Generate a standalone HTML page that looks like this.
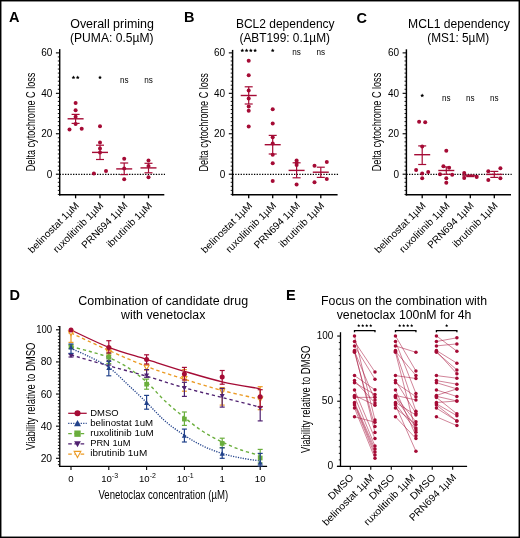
<!DOCTYPE html>
<html><head><meta charset="utf-8"><style>
html,body{margin:0;padding:0;background:#fff;}
body{width:520px;height:538px;overflow:hidden;}
svg{display:block;font-family:"Liberation Sans", sans-serif;will-change:transform;}
</style></head><body>
<svg width="520" height="538" viewBox="0 0 520 538">
<rect width="520" height="538" fill="#fff"/>
<rect x="0.7" y="0.7" width="518.6" height="536.6" fill="none" stroke="#000" stroke-width="1.5"/>
<text x="9.00" y="22.40" font-size="14.5" font-weight="bold" fill="#000" >A</text>
<text x="184.00" y="22.30" font-size="14.5" font-weight="bold" fill="#000" >B</text>
<text x="356.40" y="22.80" font-size="14.5" font-weight="bold" fill="#000" >C</text>
<text x="9.60" y="299.60" font-size="14.5" font-weight="bold" fill="#000" >D</text>
<text x="285.90" y="299.60" font-size="14.5" font-weight="bold" fill="#000" >E</text>
<text x="70.20" y="28.20" font-size="12" textLength="83.80" lengthAdjust="spacingAndGlyphs" >Overall priming</text>
<text x="70.00" y="41.80" font-size="12" textLength="83.60" lengthAdjust="spacingAndGlyphs" >(PUMA: 0.5µM)</text>
<line x1="59.70" y1="49.10" x2="59.70" y2="195.50" stroke="#000" stroke-width="1.45" />
<line x1="59.00" y1="194.80" x2="164.30" y2="194.80" stroke="#000" stroke-width="1.4" />
<line x1="57.80" y1="194.42" x2="59.70" y2="194.42" stroke="#000" stroke-width="0.9" />
<line x1="57.80" y1="190.38" x2="59.70" y2="190.38" stroke="#000" stroke-width="0.9" />
<line x1="57.80" y1="186.33" x2="59.70" y2="186.33" stroke="#000" stroke-width="0.9" />
<line x1="57.80" y1="182.29" x2="59.70" y2="182.29" stroke="#000" stroke-width="0.9" />
<line x1="57.80" y1="178.24" x2="59.70" y2="178.24" stroke="#000" stroke-width="0.9" />
<line x1="55.90" y1="174.20" x2="59.70" y2="174.20" stroke="#000" stroke-width="1.1" />
<line x1="57.80" y1="170.16" x2="59.70" y2="170.16" stroke="#000" stroke-width="0.9" />
<line x1="57.80" y1="166.11" x2="59.70" y2="166.11" stroke="#000" stroke-width="0.9" />
<line x1="57.80" y1="162.07" x2="59.70" y2="162.07" stroke="#000" stroke-width="0.9" />
<line x1="57.80" y1="158.02" x2="59.70" y2="158.02" stroke="#000" stroke-width="0.9" />
<line x1="57.80" y1="153.98" x2="59.70" y2="153.98" stroke="#000" stroke-width="0.9" />
<line x1="57.80" y1="149.94" x2="59.70" y2="149.94" stroke="#000" stroke-width="0.9" />
<line x1="57.80" y1="145.89" x2="59.70" y2="145.89" stroke="#000" stroke-width="0.9" />
<line x1="57.80" y1="141.85" x2="59.70" y2="141.85" stroke="#000" stroke-width="0.9" />
<line x1="57.80" y1="137.80" x2="59.70" y2="137.80" stroke="#000" stroke-width="0.9" />
<line x1="55.90" y1="133.76" x2="59.70" y2="133.76" stroke="#000" stroke-width="1.1" />
<line x1="57.80" y1="129.72" x2="59.70" y2="129.72" stroke="#000" stroke-width="0.9" />
<line x1="57.80" y1="125.67" x2="59.70" y2="125.67" stroke="#000" stroke-width="0.9" />
<line x1="57.80" y1="121.63" x2="59.70" y2="121.63" stroke="#000" stroke-width="0.9" />
<line x1="57.80" y1="117.58" x2="59.70" y2="117.58" stroke="#000" stroke-width="0.9" />
<line x1="57.80" y1="113.54" x2="59.70" y2="113.54" stroke="#000" stroke-width="0.9" />
<line x1="57.80" y1="109.50" x2="59.70" y2="109.50" stroke="#000" stroke-width="0.9" />
<line x1="57.80" y1="105.45" x2="59.70" y2="105.45" stroke="#000" stroke-width="0.9" />
<line x1="57.80" y1="101.41" x2="59.70" y2="101.41" stroke="#000" stroke-width="0.9" />
<line x1="57.80" y1="97.36" x2="59.70" y2="97.36" stroke="#000" stroke-width="0.9" />
<line x1="55.90" y1="93.32" x2="59.70" y2="93.32" stroke="#000" stroke-width="1.1" />
<line x1="57.80" y1="89.28" x2="59.70" y2="89.28" stroke="#000" stroke-width="0.9" />
<line x1="57.80" y1="85.23" x2="59.70" y2="85.23" stroke="#000" stroke-width="0.9" />
<line x1="57.80" y1="81.19" x2="59.70" y2="81.19" stroke="#000" stroke-width="0.9" />
<line x1="57.80" y1="77.14" x2="59.70" y2="77.14" stroke="#000" stroke-width="0.9" />
<line x1="57.80" y1="73.10" x2="59.70" y2="73.10" stroke="#000" stroke-width="0.9" />
<line x1="57.80" y1="69.06" x2="59.70" y2="69.06" stroke="#000" stroke-width="0.9" />
<line x1="57.80" y1="65.01" x2="59.70" y2="65.01" stroke="#000" stroke-width="0.9" />
<line x1="57.80" y1="60.97" x2="59.70" y2="60.97" stroke="#000" stroke-width="0.9" />
<line x1="57.80" y1="56.92" x2="59.70" y2="56.92" stroke="#000" stroke-width="0.9" />
<line x1="55.90" y1="52.88" x2="59.70" y2="52.88" stroke="#000" stroke-width="1.1" />
<text x="52.30" y="177.80" font-size="10" text-anchor="end" >0</text>
<text x="52.30" y="137.36" font-size="10" text-anchor="end" >20</text>
<text x="52.30" y="96.92" font-size="10" text-anchor="end" >40</text>
<text x="52.30" y="56.48" font-size="10" text-anchor="end" >60</text>
<text x="34.80" y="121.95" font-size="12" text-anchor="middle" textLength="98.50" lengthAdjust="spacingAndGlyphs" transform="rotate(-90 34.80 121.95)" >Delta cytochrome C loss</text>
<line x1="59.70" y1="174.30" x2="165.00" y2="174.30" stroke="#000" stroke-width="1.3" stroke-dasharray="1.3 1.37"/>
<line x1="75.60" y1="194.80" x2="75.60" y2="198.30" stroke="#000" stroke-width="1.3" />
<text x="79.70" y="206.20" font-size="10" text-anchor="end" textLength="67.25" lengthAdjust="spacingAndGlyphs" transform="rotate(-45 79.70 206.20)" >belinostat 1µM</text>
<line x1="100.00" y1="194.80" x2="100.00" y2="198.30" stroke="#000" stroke-width="1.3" />
<text x="104.10" y="206.20" font-size="10" text-anchor="end" textLength="66.66" lengthAdjust="spacingAndGlyphs" transform="rotate(-45 104.10 206.20)" >ruxolitinib 1µM</text>
<line x1="124.20" y1="194.80" x2="124.20" y2="198.30" stroke="#000" stroke-width="1.3" />
<text x="128.30" y="206.20" font-size="10" text-anchor="end" textLength="60.48" lengthAdjust="spacingAndGlyphs" transform="rotate(-45 128.30 206.20)" >PRN694 1µM</text>
<line x1="148.50" y1="194.80" x2="148.50" y2="198.30" stroke="#000" stroke-width="1.3" />
<text x="152.60" y="206.20" font-size="10" text-anchor="end" textLength="59.22" lengthAdjust="spacingAndGlyphs" transform="rotate(-45 152.60 206.20)" >ibrutinib 1µM</text>
<polygon points="73.46,75.50 74.05,76.69 75.37,76.88 74.42,77.81 74.64,79.12 73.46,78.50 72.29,79.12 72.51,77.81 71.56,76.88 72.88,76.69" fill="#000"/>
<polygon points="77.73,75.50 78.32,76.69 79.64,76.88 78.69,77.81 78.91,79.12 77.73,78.50 76.56,79.12 76.78,77.81 75.83,76.88 77.15,76.69" fill="#000"/>
<polygon points="100.00,75.50 100.59,76.69 101.90,76.88 100.95,77.81 101.18,79.12 100.00,78.50 98.82,79.12 99.05,77.81 98.10,76.88 99.41,76.69" fill="#000"/>
<text x="124.20" y="82.70" font-size="9.4" text-anchor="middle" textLength="8.60" lengthAdjust="spacingAndGlyphs" >ns</text>
<text x="148.50" y="82.70" font-size="9.4" text-anchor="middle" textLength="8.60" lengthAdjust="spacingAndGlyphs" >ns</text>
<circle cx="75.60" cy="103.10" r="2.0" fill="#a50b35"/>
<circle cx="75.60" cy="110.30" r="2.0" fill="#a50b35"/>
<circle cx="75.60" cy="116.70" r="2.0" fill="#a50b35"/>
<circle cx="75.60" cy="124.10" r="2.0" fill="#a50b35"/>
<circle cx="69.50" cy="129.40" r="2.0" fill="#a50b35"/>
<circle cx="81.70" cy="128.70" r="2.0" fill="#a50b35"/>
<line x1="67.60" y1="118.80" x2="83.60" y2="118.80" stroke="#a50b35" stroke-width="1.4" />
<line x1="75.60" y1="114.40" x2="75.60" y2="123.40" stroke="#a50b35" stroke-width="1.2" />
<line x1="71.60" y1="114.40" x2="79.60" y2="114.40" stroke="#a50b35" stroke-width="1.2" />
<line x1="71.60" y1="123.40" x2="79.60" y2="123.40" stroke="#a50b35" stroke-width="1.2" />
<circle cx="100.00" cy="126.20" r="2.0" fill="#a50b35"/>
<circle cx="100.00" cy="142.60" r="2.0" fill="#a50b35"/>
<circle cx="100.00" cy="148.40" r="2.0" fill="#a50b35"/>
<circle cx="100.00" cy="152.60" r="2.0" fill="#a50b35"/>
<circle cx="93.90" cy="173.40" r="2.0" fill="#a50b35"/>
<circle cx="106.00" cy="171.10" r="2.0" fill="#a50b35"/>
<line x1="92.00" y1="152.40" x2="108.00" y2="152.40" stroke="#a50b35" stroke-width="1.4" />
<line x1="100.00" y1="145.20" x2="100.00" y2="159.50" stroke="#a50b35" stroke-width="1.2" />
<line x1="96.00" y1="145.20" x2="104.00" y2="145.20" stroke="#a50b35" stroke-width="1.2" />
<line x1="96.00" y1="159.50" x2="104.00" y2="159.50" stroke="#a50b35" stroke-width="1.2" />
<circle cx="124.20" cy="158.80" r="2.0" fill="#a50b35"/>
<circle cx="124.20" cy="168.50" r="2.0" fill="#a50b35"/>
<circle cx="124.20" cy="179.30" r="2.0" fill="#a50b35"/>
<line x1="116.20" y1="168.90" x2="132.20" y2="168.90" stroke="#a50b35" stroke-width="1.4" />
<line x1="124.20" y1="163.00" x2="124.20" y2="174.60" stroke="#a50b35" stroke-width="1.2" />
<line x1="120.20" y1="163.00" x2="128.20" y2="163.00" stroke="#a50b35" stroke-width="1.2" />
<line x1="120.20" y1="174.60" x2="128.20" y2="174.60" stroke="#a50b35" stroke-width="1.2" />
<circle cx="148.50" cy="160.60" r="2.0" fill="#a50b35"/>
<circle cx="148.50" cy="166.00" r="2.0" fill="#a50b35"/>
<circle cx="148.50" cy="177.30" r="2.0" fill="#a50b35"/>
<line x1="140.50" y1="167.90" x2="156.50" y2="167.90" stroke="#a50b35" stroke-width="1.4" />
<line x1="148.50" y1="163.30" x2="148.50" y2="172.80" stroke="#a50b35" stroke-width="1.2" />
<line x1="144.50" y1="163.30" x2="152.50" y2="163.30" stroke="#a50b35" stroke-width="1.2" />
<line x1="144.50" y1="172.80" x2="152.50" y2="172.80" stroke="#a50b35" stroke-width="1.2" />
<text x="235.90" y="28.20" font-size="12" textLength="98.70" lengthAdjust="spacingAndGlyphs" >BCL2 dependency</text>
<text x="239.50" y="41.80" font-size="12" textLength="90.50" lengthAdjust="spacingAndGlyphs" >(ABT199: 0.1µM)</text>
<line x1="232.60" y1="49.90" x2="232.60" y2="195.50" stroke="#000" stroke-width="1.45" />
<line x1="231.90" y1="194.80" x2="337.60" y2="194.80" stroke="#000" stroke-width="1.4" />
<line x1="230.70" y1="194.42" x2="232.60" y2="194.42" stroke="#000" stroke-width="0.9" />
<line x1="230.70" y1="190.38" x2="232.60" y2="190.38" stroke="#000" stroke-width="0.9" />
<line x1="230.70" y1="186.33" x2="232.60" y2="186.33" stroke="#000" stroke-width="0.9" />
<line x1="230.70" y1="182.29" x2="232.60" y2="182.29" stroke="#000" stroke-width="0.9" />
<line x1="230.70" y1="178.24" x2="232.60" y2="178.24" stroke="#000" stroke-width="0.9" />
<line x1="228.80" y1="174.20" x2="232.60" y2="174.20" stroke="#000" stroke-width="1.1" />
<line x1="230.70" y1="170.16" x2="232.60" y2="170.16" stroke="#000" stroke-width="0.9" />
<line x1="230.70" y1="166.11" x2="232.60" y2="166.11" stroke="#000" stroke-width="0.9" />
<line x1="230.70" y1="162.07" x2="232.60" y2="162.07" stroke="#000" stroke-width="0.9" />
<line x1="230.70" y1="158.02" x2="232.60" y2="158.02" stroke="#000" stroke-width="0.9" />
<line x1="230.70" y1="153.98" x2="232.60" y2="153.98" stroke="#000" stroke-width="0.9" />
<line x1="230.70" y1="149.94" x2="232.60" y2="149.94" stroke="#000" stroke-width="0.9" />
<line x1="230.70" y1="145.89" x2="232.60" y2="145.89" stroke="#000" stroke-width="0.9" />
<line x1="230.70" y1="141.85" x2="232.60" y2="141.85" stroke="#000" stroke-width="0.9" />
<line x1="230.70" y1="137.80" x2="232.60" y2="137.80" stroke="#000" stroke-width="0.9" />
<line x1="228.80" y1="133.76" x2="232.60" y2="133.76" stroke="#000" stroke-width="1.1" />
<line x1="230.70" y1="129.72" x2="232.60" y2="129.72" stroke="#000" stroke-width="0.9" />
<line x1="230.70" y1="125.67" x2="232.60" y2="125.67" stroke="#000" stroke-width="0.9" />
<line x1="230.70" y1="121.63" x2="232.60" y2="121.63" stroke="#000" stroke-width="0.9" />
<line x1="230.70" y1="117.58" x2="232.60" y2="117.58" stroke="#000" stroke-width="0.9" />
<line x1="230.70" y1="113.54" x2="232.60" y2="113.54" stroke="#000" stroke-width="0.9" />
<line x1="230.70" y1="109.50" x2="232.60" y2="109.50" stroke="#000" stroke-width="0.9" />
<line x1="230.70" y1="105.45" x2="232.60" y2="105.45" stroke="#000" stroke-width="0.9" />
<line x1="230.70" y1="101.41" x2="232.60" y2="101.41" stroke="#000" stroke-width="0.9" />
<line x1="230.70" y1="97.36" x2="232.60" y2="97.36" stroke="#000" stroke-width="0.9" />
<line x1="228.80" y1="93.32" x2="232.60" y2="93.32" stroke="#000" stroke-width="1.1" />
<line x1="230.70" y1="89.28" x2="232.60" y2="89.28" stroke="#000" stroke-width="0.9" />
<line x1="230.70" y1="85.23" x2="232.60" y2="85.23" stroke="#000" stroke-width="0.9" />
<line x1="230.70" y1="81.19" x2="232.60" y2="81.19" stroke="#000" stroke-width="0.9" />
<line x1="230.70" y1="77.14" x2="232.60" y2="77.14" stroke="#000" stroke-width="0.9" />
<line x1="230.70" y1="73.10" x2="232.60" y2="73.10" stroke="#000" stroke-width="0.9" />
<line x1="230.70" y1="69.06" x2="232.60" y2="69.06" stroke="#000" stroke-width="0.9" />
<line x1="230.70" y1="65.01" x2="232.60" y2="65.01" stroke="#000" stroke-width="0.9" />
<line x1="230.70" y1="60.97" x2="232.60" y2="60.97" stroke="#000" stroke-width="0.9" />
<line x1="230.70" y1="56.92" x2="232.60" y2="56.92" stroke="#000" stroke-width="0.9" />
<line x1="228.80" y1="52.88" x2="232.60" y2="52.88" stroke="#000" stroke-width="1.1" />
<text x="225.20" y="177.80" font-size="10" text-anchor="end" >0</text>
<text x="225.20" y="137.36" font-size="10" text-anchor="end" >20</text>
<text x="225.20" y="96.92" font-size="10" text-anchor="end" >40</text>
<text x="225.20" y="56.48" font-size="10" text-anchor="end" >60</text>
<text x="207.70" y="122.35" font-size="12" text-anchor="middle" textLength="98.50" lengthAdjust="spacingAndGlyphs" transform="rotate(-90 207.70 122.35)" >Delta cytochrome C loss</text>
<line x1="232.60" y1="174.30" x2="338.30" y2="174.30" stroke="#000" stroke-width="1.3" stroke-dasharray="1.3 1.37"/>
<line x1="248.70" y1="194.80" x2="248.70" y2="198.30" stroke="#000" stroke-width="1.3" />
<text x="252.80" y="206.20" font-size="10" text-anchor="end" textLength="67.25" lengthAdjust="spacingAndGlyphs" transform="rotate(-45 252.80 206.20)" >belinostat 1µM</text>
<line x1="272.70" y1="194.80" x2="272.70" y2="198.30" stroke="#000" stroke-width="1.3" />
<text x="276.80" y="206.20" font-size="10" text-anchor="end" textLength="66.66" lengthAdjust="spacingAndGlyphs" transform="rotate(-45 276.80 206.20)" >ruxolitinib 1µM</text>
<line x1="296.60" y1="194.80" x2="296.60" y2="198.30" stroke="#000" stroke-width="1.3" />
<text x="300.70" y="206.20" font-size="10" text-anchor="end" textLength="60.48" lengthAdjust="spacingAndGlyphs" transform="rotate(-45 300.70 206.20)" >PRN694 1µM</text>
<line x1="320.80" y1="194.80" x2="320.80" y2="198.30" stroke="#000" stroke-width="1.3" />
<text x="324.90" y="206.20" font-size="10" text-anchor="end" textLength="59.22" lengthAdjust="spacingAndGlyphs" transform="rotate(-45 324.90 206.20)" >ibrutinib 1µM</text>
<polygon points="242.29,48.50 242.88,49.69 244.20,49.88 243.25,50.81 243.47,52.12 242.29,51.50 241.12,52.12 241.34,50.81 240.39,49.88 241.71,49.69" fill="#000"/>
<polygon points="246.56,48.50 247.15,49.69 248.47,49.88 247.52,50.81 247.74,52.12 246.56,51.50 245.39,52.12 245.61,50.81 244.66,49.88 245.98,49.69" fill="#000"/>
<polygon points="250.83,48.50 251.42,49.69 252.74,49.88 251.79,50.81 252.01,52.12 250.83,51.50 249.66,52.12 249.88,50.81 248.93,49.88 250.25,49.69" fill="#000"/>
<polygon points="255.10,48.50 255.69,49.69 257.01,49.88 256.06,50.81 256.28,52.12 255.10,51.50 253.93,52.12 254.15,50.81 253.20,49.88 254.52,49.69" fill="#000"/>
<polygon points="272.70,48.50 273.29,49.69 274.60,49.88 273.65,50.81 273.88,52.12 272.70,51.50 271.52,52.12 271.75,50.81 270.80,49.88 272.11,49.69" fill="#000"/>
<text x="296.60" y="55.40" font-size="9.4" text-anchor="middle" textLength="8.60" lengthAdjust="spacingAndGlyphs" >ns</text>
<text x="320.80" y="55.40" font-size="9.4" text-anchor="middle" textLength="8.60" lengthAdjust="spacingAndGlyphs" >ns</text>
<circle cx="248.70" cy="60.80" r="2.0" fill="#a50b35"/>
<circle cx="248.70" cy="75.30" r="2.0" fill="#a50b35"/>
<circle cx="248.70" cy="90.40" r="2.0" fill="#a50b35"/>
<circle cx="248.70" cy="98.40" r="2.0" fill="#a50b35"/>
<circle cx="248.70" cy="106.50" r="2.0" fill="#a50b35"/>
<circle cx="248.70" cy="110.70" r="2.0" fill="#a50b35"/>
<circle cx="248.70" cy="126.50" r="2.0" fill="#a50b35"/>
<line x1="240.70" y1="95.50" x2="256.70" y2="95.50" stroke="#a50b35" stroke-width="1.4" />
<line x1="248.70" y1="86.80" x2="248.70" y2="104.00" stroke="#a50b35" stroke-width="1.2" />
<line x1="244.70" y1="86.80" x2="252.70" y2="86.80" stroke="#a50b35" stroke-width="1.2" />
<line x1="244.70" y1="104.00" x2="252.70" y2="104.00" stroke="#a50b35" stroke-width="1.2" />
<circle cx="272.70" cy="109.20" r="2.0" fill="#a50b35"/>
<circle cx="272.70" cy="123.40" r="2.0" fill="#a50b35"/>
<circle cx="272.70" cy="137.20" r="2.0" fill="#a50b35"/>
<circle cx="272.70" cy="143.40" r="2.0" fill="#a50b35"/>
<circle cx="272.70" cy="154.80" r="2.0" fill="#a50b35"/>
<circle cx="272.70" cy="163.20" r="2.0" fill="#a50b35"/>
<circle cx="272.70" cy="181.10" r="2.0" fill="#a50b35"/>
<line x1="264.70" y1="144.70" x2="280.70" y2="144.70" stroke="#a50b35" stroke-width="1.4" />
<line x1="272.70" y1="135.40" x2="272.70" y2="154.00" stroke="#a50b35" stroke-width="1.2" />
<line x1="268.70" y1="135.40" x2="276.70" y2="135.40" stroke="#a50b35" stroke-width="1.2" />
<line x1="268.70" y1="154.00" x2="276.70" y2="154.00" stroke="#a50b35" stroke-width="1.2" />
<circle cx="296.60" cy="160.50" r="2.0" fill="#a50b35"/>
<circle cx="296.60" cy="162.80" r="2.0" fill="#a50b35"/>
<circle cx="296.60" cy="165.10" r="2.0" fill="#a50b35"/>
<circle cx="296.60" cy="184.60" r="2.0" fill="#a50b35"/>
<line x1="288.60" y1="170.40" x2="304.60" y2="170.40" stroke="#a50b35" stroke-width="1.4" />
<line x1="296.60" y1="162.80" x2="296.60" y2="177.80" stroke="#a50b35" stroke-width="1.2" />
<line x1="292.60" y1="162.80" x2="300.60" y2="162.80" stroke="#a50b35" stroke-width="1.2" />
<line x1="292.60" y1="177.80" x2="300.60" y2="177.80" stroke="#a50b35" stroke-width="1.2" />
<circle cx="326.80" cy="162.00" r="2.0" fill="#a50b35"/>
<circle cx="314.50" cy="165.70" r="2.0" fill="#a50b35"/>
<circle cx="326.80" cy="178.90" r="2.0" fill="#a50b35"/>
<circle cx="314.50" cy="182.30" r="2.0" fill="#a50b35"/>
<line x1="312.80" y1="172.20" x2="328.80" y2="172.20" stroke="#a50b35" stroke-width="1.4" />
<line x1="320.80" y1="167.20" x2="320.80" y2="177.40" stroke="#a50b35" stroke-width="1.2" />
<line x1="316.80" y1="167.20" x2="324.80" y2="167.20" stroke="#a50b35" stroke-width="1.2" />
<line x1="316.80" y1="177.40" x2="324.80" y2="177.40" stroke="#a50b35" stroke-width="1.2" />
<text x="408.10" y="28.20" font-size="12" textLength="101.70" lengthAdjust="spacingAndGlyphs" >MCL1 dependency</text>
<text x="427.20" y="41.80" font-size="12" textLength="62.00" lengthAdjust="spacingAndGlyphs" >(MS1: 5µM)</text>
<line x1="406.40" y1="49.30" x2="406.40" y2="195.50" stroke="#000" stroke-width="1.45" />
<line x1="405.70" y1="194.80" x2="511.00" y2="194.80" stroke="#000" stroke-width="1.4" />
<line x1="404.50" y1="194.42" x2="406.40" y2="194.42" stroke="#000" stroke-width="0.9" />
<line x1="404.50" y1="190.38" x2="406.40" y2="190.38" stroke="#000" stroke-width="0.9" />
<line x1="404.50" y1="186.33" x2="406.40" y2="186.33" stroke="#000" stroke-width="0.9" />
<line x1="404.50" y1="182.29" x2="406.40" y2="182.29" stroke="#000" stroke-width="0.9" />
<line x1="404.50" y1="178.24" x2="406.40" y2="178.24" stroke="#000" stroke-width="0.9" />
<line x1="402.60" y1="174.20" x2="406.40" y2="174.20" stroke="#000" stroke-width="1.1" />
<line x1="404.50" y1="170.16" x2="406.40" y2="170.16" stroke="#000" stroke-width="0.9" />
<line x1="404.50" y1="166.11" x2="406.40" y2="166.11" stroke="#000" stroke-width="0.9" />
<line x1="404.50" y1="162.07" x2="406.40" y2="162.07" stroke="#000" stroke-width="0.9" />
<line x1="404.50" y1="158.02" x2="406.40" y2="158.02" stroke="#000" stroke-width="0.9" />
<line x1="404.50" y1="153.98" x2="406.40" y2="153.98" stroke="#000" stroke-width="0.9" />
<line x1="404.50" y1="149.94" x2="406.40" y2="149.94" stroke="#000" stroke-width="0.9" />
<line x1="404.50" y1="145.89" x2="406.40" y2="145.89" stroke="#000" stroke-width="0.9" />
<line x1="404.50" y1="141.85" x2="406.40" y2="141.85" stroke="#000" stroke-width="0.9" />
<line x1="404.50" y1="137.80" x2="406.40" y2="137.80" stroke="#000" stroke-width="0.9" />
<line x1="402.60" y1="133.76" x2="406.40" y2="133.76" stroke="#000" stroke-width="1.1" />
<line x1="404.50" y1="129.72" x2="406.40" y2="129.72" stroke="#000" stroke-width="0.9" />
<line x1="404.50" y1="125.67" x2="406.40" y2="125.67" stroke="#000" stroke-width="0.9" />
<line x1="404.50" y1="121.63" x2="406.40" y2="121.63" stroke="#000" stroke-width="0.9" />
<line x1="404.50" y1="117.58" x2="406.40" y2="117.58" stroke="#000" stroke-width="0.9" />
<line x1="404.50" y1="113.54" x2="406.40" y2="113.54" stroke="#000" stroke-width="0.9" />
<line x1="404.50" y1="109.50" x2="406.40" y2="109.50" stroke="#000" stroke-width="0.9" />
<line x1="404.50" y1="105.45" x2="406.40" y2="105.45" stroke="#000" stroke-width="0.9" />
<line x1="404.50" y1="101.41" x2="406.40" y2="101.41" stroke="#000" stroke-width="0.9" />
<line x1="404.50" y1="97.36" x2="406.40" y2="97.36" stroke="#000" stroke-width="0.9" />
<line x1="402.60" y1="93.32" x2="406.40" y2="93.32" stroke="#000" stroke-width="1.1" />
<line x1="404.50" y1="89.28" x2="406.40" y2="89.28" stroke="#000" stroke-width="0.9" />
<line x1="404.50" y1="85.23" x2="406.40" y2="85.23" stroke="#000" stroke-width="0.9" />
<line x1="404.50" y1="81.19" x2="406.40" y2="81.19" stroke="#000" stroke-width="0.9" />
<line x1="404.50" y1="77.14" x2="406.40" y2="77.14" stroke="#000" stroke-width="0.9" />
<line x1="404.50" y1="73.10" x2="406.40" y2="73.10" stroke="#000" stroke-width="0.9" />
<line x1="404.50" y1="69.06" x2="406.40" y2="69.06" stroke="#000" stroke-width="0.9" />
<line x1="404.50" y1="65.01" x2="406.40" y2="65.01" stroke="#000" stroke-width="0.9" />
<line x1="404.50" y1="60.97" x2="406.40" y2="60.97" stroke="#000" stroke-width="0.9" />
<line x1="404.50" y1="56.92" x2="406.40" y2="56.92" stroke="#000" stroke-width="0.9" />
<line x1="402.60" y1="52.88" x2="406.40" y2="52.88" stroke="#000" stroke-width="1.1" />
<text x="399.00" y="177.80" font-size="10" text-anchor="end" >0</text>
<text x="399.00" y="137.36" font-size="10" text-anchor="end" >20</text>
<text x="399.00" y="96.92" font-size="10" text-anchor="end" >40</text>
<text x="399.00" y="56.48" font-size="10" text-anchor="end" >60</text>
<text x="381.50" y="122.05" font-size="12" text-anchor="middle" textLength="98.50" lengthAdjust="spacingAndGlyphs" transform="rotate(-90 381.50 122.05)" >Delta cytochrome C loss</text>
<line x1="406.40" y1="174.30" x2="511.70" y2="174.30" stroke="#000" stroke-width="1.3" stroke-dasharray="1.3 1.37"/>
<line x1="422.20" y1="194.80" x2="422.20" y2="198.30" stroke="#000" stroke-width="1.3" />
<text x="426.30" y="206.20" font-size="10" text-anchor="end" textLength="67.25" lengthAdjust="spacingAndGlyphs" transform="rotate(-45 426.30 206.20)" >belinostat 1µM</text>
<line x1="446.30" y1="194.80" x2="446.30" y2="198.30" stroke="#000" stroke-width="1.3" />
<text x="450.40" y="206.20" font-size="10" text-anchor="end" textLength="66.66" lengthAdjust="spacingAndGlyphs" transform="rotate(-45 450.40 206.20)" >ruxolitinib 1µM</text>
<line x1="470.30" y1="194.80" x2="470.30" y2="198.30" stroke="#000" stroke-width="1.3" />
<text x="474.40" y="206.20" font-size="10" text-anchor="end" textLength="60.48" lengthAdjust="spacingAndGlyphs" transform="rotate(-45 474.40 206.20)" >PRN694 1µM</text>
<line x1="494.30" y1="194.80" x2="494.30" y2="198.30" stroke="#000" stroke-width="1.3" />
<text x="498.40" y="206.20" font-size="10" text-anchor="end" textLength="59.22" lengthAdjust="spacingAndGlyphs" transform="rotate(-45 498.40 206.20)" >ibrutinib 1µM</text>
<polygon points="422.20,93.60 422.79,94.79 424.10,94.98 423.15,95.91 423.38,97.22 422.20,96.60 421.02,97.22 421.25,95.91 420.30,94.98 421.61,94.79" fill="#000"/>
<text x="446.30" y="100.50" font-size="9.4" text-anchor="middle" textLength="8.60" lengthAdjust="spacingAndGlyphs" >ns</text>
<text x="470.30" y="100.50" font-size="9.4" text-anchor="middle" textLength="8.60" lengthAdjust="spacingAndGlyphs" >ns</text>
<text x="494.30" y="100.50" font-size="9.4" text-anchor="middle" textLength="8.60" lengthAdjust="spacingAndGlyphs" >ns</text>
<circle cx="419.10" cy="121.80" r="2.0" fill="#a50b35"/>
<circle cx="425.20" cy="122.20" r="2.0" fill="#a50b35"/>
<circle cx="422.20" cy="146.60" r="2.0" fill="#a50b35"/>
<circle cx="416.10" cy="170.10" r="2.0" fill="#a50b35"/>
<circle cx="428.20" cy="171.90" r="2.0" fill="#a50b35"/>
<circle cx="422.20" cy="173.60" r="2.0" fill="#a50b35"/>
<circle cx="422.20" cy="178.20" r="2.0" fill="#a50b35"/>
<line x1="414.20" y1="154.70" x2="430.20" y2="154.70" stroke="#a50b35" stroke-width="1.4" />
<line x1="422.20" y1="145.90" x2="422.20" y2="164.50" stroke="#a50b35" stroke-width="1.2" />
<line x1="418.20" y1="145.90" x2="426.20" y2="145.90" stroke="#a50b35" stroke-width="1.2" />
<line x1="418.20" y1="164.50" x2="426.20" y2="164.50" stroke="#a50b35" stroke-width="1.2" />
<circle cx="446.30" cy="150.70" r="2.0" fill="#a50b35"/>
<circle cx="443.40" cy="166.30" r="2.0" fill="#a50b35"/>
<circle cx="449.10" cy="167.70" r="2.0" fill="#a50b35"/>
<circle cx="440.00" cy="174.30" r="2.0" fill="#a50b35"/>
<circle cx="452.20" cy="174.70" r="2.0" fill="#a50b35"/>
<circle cx="446.30" cy="178.30" r="2.0" fill="#a50b35"/>
<circle cx="446.30" cy="182.80" r="2.0" fill="#a50b35"/>
<line x1="438.30" y1="170.50" x2="454.30" y2="170.50" stroke="#a50b35" stroke-width="1.4" />
<line x1="446.30" y1="166.90" x2="446.30" y2="174.30" stroke="#a50b35" stroke-width="1.2" />
<line x1="442.30" y1="166.90" x2="450.30" y2="166.90" stroke="#a50b35" stroke-width="1.2" />
<line x1="442.30" y1="174.30" x2="450.30" y2="174.30" stroke="#a50b35" stroke-width="1.2" />
<circle cx="464.20" cy="173.10" r="2.0" fill="#a50b35"/>
<circle cx="464.20" cy="177.90" r="2.0" fill="#a50b35"/>
<circle cx="476.70" cy="177.10" r="2.0" fill="#a50b35"/>
<line x1="462.30" y1="175.80" x2="478.30" y2="175.80" stroke="#a50b35" stroke-width="1.4" />
<line x1="470.30" y1="175.00" x2="470.30" y2="176.60" stroke="#a50b35" stroke-width="1.2" />
<line x1="466.30" y1="175.00" x2="474.30" y2="175.00" stroke="#a50b35" stroke-width="1.2" />
<line x1="466.30" y1="176.60" x2="474.30" y2="176.60" stroke="#a50b35" stroke-width="1.2" />
<circle cx="500.40" cy="168.30" r="2.0" fill="#a50b35"/>
<circle cx="488.30" cy="171.20" r="2.0" fill="#a50b35"/>
<circle cx="500.40" cy="178.20" r="2.0" fill="#a50b35"/>
<circle cx="488.30" cy="180.00" r="2.0" fill="#a50b35"/>
<line x1="486.30" y1="174.40" x2="502.30" y2="174.40" stroke="#a50b35" stroke-width="1.4" />
<line x1="494.30" y1="171.40" x2="494.30" y2="177.40" stroke="#a50b35" stroke-width="1.2" />
<line x1="490.30" y1="171.40" x2="498.30" y2="171.40" stroke="#a50b35" stroke-width="1.2" />
<line x1="490.30" y1="177.40" x2="498.30" y2="177.40" stroke="#a50b35" stroke-width="1.2" />
<text x="78.30" y="304.90" font-size="12.5" textLength="169.80" lengthAdjust="spacingAndGlyphs" >Combination of candidate drug</text>
<text x="121.00" y="319.20" font-size="12.5" textLength="84.40" lengthAdjust="spacingAndGlyphs" >with venetoclax</text>
<line x1="59.80" y1="326.10" x2="59.80" y2="467.05" stroke="#000" stroke-width="1.3" />
<line x1="59.15" y1="466.45" x2="267.10" y2="466.45" stroke="#000" stroke-width="1.25" />
<line x1="57.90" y1="464.70" x2="59.80" y2="464.70" stroke="#000" stroke-width="0.9" />
<line x1="57.90" y1="461.49" x2="59.80" y2="461.49" stroke="#000" stroke-width="0.9" />
<line x1="56.00" y1="458.28" x2="59.80" y2="458.28" stroke="#000" stroke-width="1.1" />
<line x1="57.90" y1="455.07" x2="59.80" y2="455.07" stroke="#000" stroke-width="0.9" />
<line x1="57.90" y1="451.86" x2="59.80" y2="451.86" stroke="#000" stroke-width="0.9" />
<line x1="57.90" y1="448.64" x2="59.80" y2="448.64" stroke="#000" stroke-width="0.9" />
<line x1="57.90" y1="445.43" x2="59.80" y2="445.43" stroke="#000" stroke-width="0.9" />
<line x1="57.90" y1="442.22" x2="59.80" y2="442.22" stroke="#000" stroke-width="0.9" />
<line x1="57.90" y1="439.01" x2="59.80" y2="439.01" stroke="#000" stroke-width="0.9" />
<line x1="57.90" y1="435.80" x2="59.80" y2="435.80" stroke="#000" stroke-width="0.9" />
<line x1="57.90" y1="432.58" x2="59.80" y2="432.58" stroke="#000" stroke-width="0.9" />
<line x1="57.90" y1="429.37" x2="59.80" y2="429.37" stroke="#000" stroke-width="0.9" />
<line x1="56.00" y1="426.16" x2="59.80" y2="426.16" stroke="#000" stroke-width="1.1" />
<line x1="57.90" y1="422.95" x2="59.80" y2="422.95" stroke="#000" stroke-width="0.9" />
<line x1="57.90" y1="419.74" x2="59.80" y2="419.74" stroke="#000" stroke-width="0.9" />
<line x1="57.90" y1="416.52" x2="59.80" y2="416.52" stroke="#000" stroke-width="0.9" />
<line x1="57.90" y1="413.31" x2="59.80" y2="413.31" stroke="#000" stroke-width="0.9" />
<line x1="57.90" y1="410.10" x2="59.80" y2="410.10" stroke="#000" stroke-width="0.9" />
<line x1="57.90" y1="406.89" x2="59.80" y2="406.89" stroke="#000" stroke-width="0.9" />
<line x1="57.90" y1="403.68" x2="59.80" y2="403.68" stroke="#000" stroke-width="0.9" />
<line x1="57.90" y1="400.46" x2="59.80" y2="400.46" stroke="#000" stroke-width="0.9" />
<line x1="57.90" y1="397.25" x2="59.80" y2="397.25" stroke="#000" stroke-width="0.9" />
<line x1="56.00" y1="394.04" x2="59.80" y2="394.04" stroke="#000" stroke-width="1.1" />
<line x1="57.90" y1="390.83" x2="59.80" y2="390.83" stroke="#000" stroke-width="0.9" />
<line x1="57.90" y1="387.62" x2="59.80" y2="387.62" stroke="#000" stroke-width="0.9" />
<line x1="57.90" y1="384.40" x2="59.80" y2="384.40" stroke="#000" stroke-width="0.9" />
<line x1="57.90" y1="381.19" x2="59.80" y2="381.19" stroke="#000" stroke-width="0.9" />
<line x1="57.90" y1="377.98" x2="59.80" y2="377.98" stroke="#000" stroke-width="0.9" />
<line x1="57.90" y1="374.77" x2="59.80" y2="374.77" stroke="#000" stroke-width="0.9" />
<line x1="57.90" y1="371.56" x2="59.80" y2="371.56" stroke="#000" stroke-width="0.9" />
<line x1="57.90" y1="368.34" x2="59.80" y2="368.34" stroke="#000" stroke-width="0.9" />
<line x1="57.90" y1="365.13" x2="59.80" y2="365.13" stroke="#000" stroke-width="0.9" />
<line x1="56.00" y1="361.92" x2="59.80" y2="361.92" stroke="#000" stroke-width="1.1" />
<line x1="57.90" y1="358.71" x2="59.80" y2="358.71" stroke="#000" stroke-width="0.9" />
<line x1="57.90" y1="355.50" x2="59.80" y2="355.50" stroke="#000" stroke-width="0.9" />
<line x1="57.90" y1="352.28" x2="59.80" y2="352.28" stroke="#000" stroke-width="0.9" />
<line x1="57.90" y1="349.07" x2="59.80" y2="349.07" stroke="#000" stroke-width="0.9" />
<line x1="57.90" y1="345.86" x2="59.80" y2="345.86" stroke="#000" stroke-width="0.9" />
<line x1="57.90" y1="342.65" x2="59.80" y2="342.65" stroke="#000" stroke-width="0.9" />
<line x1="57.90" y1="339.44" x2="59.80" y2="339.44" stroke="#000" stroke-width="0.9" />
<line x1="57.90" y1="336.22" x2="59.80" y2="336.22" stroke="#000" stroke-width="0.9" />
<line x1="57.90" y1="333.01" x2="59.80" y2="333.01" stroke="#000" stroke-width="0.9" />
<line x1="56.00" y1="329.80" x2="59.80" y2="329.80" stroke="#000" stroke-width="1.1" />
<line x1="57.90" y1="326.59" x2="59.80" y2="326.59" stroke="#000" stroke-width="0.9" />
<text x="52.10" y="461.78" font-size="10.3" text-anchor="end" >20</text>
<text x="52.10" y="429.66" font-size="10.3" text-anchor="end" >40</text>
<text x="52.10" y="397.54" font-size="10.3" text-anchor="end" >60</text>
<text x="52.10" y="365.42" font-size="10.3" text-anchor="end" >80</text>
<text x="52.10" y="333.30" font-size="10.3" text-anchor="end" textLength="15.90" lengthAdjust="spacingAndGlyphs" >100</text>
<text x="34.60" y="396.27" font-size="12.5" text-anchor="middle" textLength="107.50" lengthAdjust="spacingAndGlyphs" transform="rotate(-90 34.60 396.27)" >Viability relative to DMSO</text>
<line x1="71.00" y1="466.45" x2="71.00" y2="469.90" stroke="#000" stroke-width="1.1" />
<line x1="108.80" y1="466.45" x2="108.80" y2="469.90" stroke="#000" stroke-width="1.1" />
<line x1="146.60" y1="466.45" x2="146.60" y2="469.90" stroke="#000" stroke-width="1.1" />
<line x1="184.40" y1="466.45" x2="184.40" y2="469.90" stroke="#000" stroke-width="1.1" />
<line x1="222.20" y1="466.45" x2="222.20" y2="469.90" stroke="#000" stroke-width="1.1" />
<line x1="260.20" y1="466.45" x2="260.20" y2="469.90" stroke="#000" stroke-width="1.1" />
<text x="71.00" y="482.30" font-size="9.6" text-anchor="middle" >0</text>
<text x="101.20" y="482.3" font-size="9.6">10<tspan font-size="7" dy="-4.6">-3</tspan></text>
<text x="139.00" y="482.3" font-size="9.6">10<tspan font-size="7" dy="-4.6">-2</tspan></text>
<text x="176.80" y="482.3" font-size="9.6">10<tspan font-size="7" dy="-4.6">-1</tspan></text>
<text x="222.20" y="482.30" font-size="9.6" text-anchor="middle" >1</text>
<text x="260.20" y="482.30" font-size="9.6" text-anchor="middle" >10</text>
<text x="98.50" y="499.00" font-size="12" textLength="129.60" lengthAdjust="spacingAndGlyphs" >Venetoclax concentration (µM)</text>
<path d="M71.00,333.00 C77.30,335.90 96.20,344.82 108.80,350.40 C121.40,355.98 134.00,361.70 146.60,366.50 C159.20,371.30 171.80,375.20 184.40,379.20 C197.00,383.20 209.57,387.17 222.20,390.50 C234.83,393.83 253.87,397.75 260.20,399.20" fill="none" stroke="#eb9a23" stroke-width="1.35" stroke-dasharray="3.4 2.8" />
<path d="M71.00,355.00 C77.30,356.80 96.20,362.27 108.80,365.80 C121.40,369.33 134.00,372.53 146.60,376.20 C159.20,379.87 171.80,384.25 184.40,387.80 C197.00,391.35 209.57,394.27 222.20,397.50 C234.83,400.73 253.87,405.58 260.20,407.20" fill="none" stroke="#4f2170" stroke-width="1.35" stroke-dasharray="3.2 2.9" />
<path d="M71.00,346.50 C74.17,347.33 83.70,349.67 90.00,351.50 C96.30,353.33 102.52,354.83 108.80,357.50 C115.08,360.17 121.40,363.42 127.70,367.50 C134.00,371.58 140.38,376.42 146.60,382.00 C152.82,387.58 158.70,395.08 165.00,401.00 C171.30,406.92 178.07,412.42 184.40,417.50 C190.73,422.58 196.70,427.42 203.00,431.50 C209.30,435.58 215.87,438.92 222.20,442.00 C228.53,445.08 234.67,447.75 241.00,450.00 C247.33,452.25 257.00,454.58 260.20,455.50" fill="none" stroke="#6aae3c" stroke-width="1.35" stroke-dasharray="3.2 2.9" />
<path d="M71.00,348.30 C74.17,349.75 83.70,353.83 90.00,357.00 C96.30,360.17 102.52,362.72 108.80,367.30 C115.08,371.88 121.40,378.63 127.70,384.50 C134.00,390.37 140.38,396.42 146.60,402.50 C152.82,408.58 158.70,415.53 165.00,421.00 C171.30,426.47 178.07,431.13 184.40,435.30 C190.73,439.47 196.70,442.97 203.00,446.00 C209.30,449.03 215.87,451.50 222.20,453.50 C228.53,455.50 234.67,456.75 241.00,458.00 C247.33,459.25 257.00,460.50 260.20,461.00" fill="none" stroke="#21418a" stroke-width="1.35" stroke-dasharray="1.2 1.3" />
<path d="M71.00,330.00 C77.30,332.88 96.20,342.40 108.80,347.30 C121.40,352.20 134.00,355.40 146.60,359.40 C159.20,363.40 171.80,367.57 184.40,371.30 C197.00,375.03 209.57,378.90 222.20,381.80 C234.83,384.70 253.87,387.55 260.20,388.70" fill="none" stroke="#a50b35" stroke-width="1.35"  />
<line x1="71.00" y1="333.00" x2="71.00" y2="342.40" stroke="#eb9a23" stroke-width="1.2" />
<line x1="68.50" y1="333.00" x2="73.50" y2="333.00" stroke="#eb9a23" stroke-width="1.2" />
<line x1="68.50" y1="342.40" x2="73.50" y2="342.40" stroke="#eb9a23" stroke-width="1.2" />
<line x1="108.80" y1="347.00" x2="108.80" y2="355.00" stroke="#eb9a23" stroke-width="1.2" />
<line x1="106.30" y1="347.00" x2="111.30" y2="347.00" stroke="#eb9a23" stroke-width="1.2" />
<line x1="106.30" y1="355.00" x2="111.30" y2="355.00" stroke="#eb9a23" stroke-width="1.2" />
<line x1="146.60" y1="364.90" x2="146.60" y2="370.00" stroke="#eb9a23" stroke-width="1.2" />
<line x1="144.10" y1="364.90" x2="149.10" y2="364.90" stroke="#eb9a23" stroke-width="1.2" />
<line x1="144.10" y1="370.00" x2="149.10" y2="370.00" stroke="#eb9a23" stroke-width="1.2" />
<line x1="184.40" y1="369.70" x2="184.40" y2="391.20" stroke="#eb9a23" stroke-width="1.2" />
<line x1="181.90" y1="369.70" x2="186.90" y2="369.70" stroke="#eb9a23" stroke-width="1.2" />
<line x1="181.90" y1="391.20" x2="186.90" y2="391.20" stroke="#eb9a23" stroke-width="1.2" />
<line x1="222.20" y1="387.60" x2="222.20" y2="405.10" stroke="#eb9a23" stroke-width="1.2" />
<line x1="219.70" y1="387.60" x2="224.70" y2="387.60" stroke="#eb9a23" stroke-width="1.2" />
<line x1="219.70" y1="405.10" x2="224.70" y2="405.10" stroke="#eb9a23" stroke-width="1.2" />
<line x1="260.20" y1="386.70" x2="260.20" y2="409.70" stroke="#eb9a23" stroke-width="1.2" />
<line x1="257.70" y1="386.70" x2="262.70" y2="386.70" stroke="#eb9a23" stroke-width="1.2" />
<line x1="257.70" y1="409.70" x2="262.70" y2="409.70" stroke="#eb9a23" stroke-width="1.2" />
<polygon points="71.00,335.60 73.47,331.05 68.53,331.05" fill="#fff" stroke="#eb9a23" stroke-width="1.1"/>
<polygon points="108.80,354.70 111.27,350.15 106.33,350.15" fill="#fff" stroke="#eb9a23" stroke-width="1.1"/>
<polygon points="146.60,369.80 149.07,365.25 144.13,365.25" fill="#fff" stroke="#eb9a23" stroke-width="1.1"/>
<polygon points="184.40,381.20 186.87,376.65 181.93,376.65" fill="#fff" stroke="#eb9a23" stroke-width="1.1"/>
<polygon points="222.20,393.60 224.67,389.05 219.73,389.05" fill="#fff" stroke="#eb9a23" stroke-width="1.1"/>
<polygon points="260.20,401.60 262.67,397.05 257.73,397.05" fill="#fff" stroke="#eb9a23" stroke-width="1.1"/>
<line x1="71.00" y1="354.00" x2="71.00" y2="357.00" stroke="#4f2170" stroke-width="1.2" />
<line x1="68.50" y1="354.00" x2="73.50" y2="354.00" stroke="#4f2170" stroke-width="1.2" />
<line x1="68.50" y1="357.00" x2="73.50" y2="357.00" stroke="#4f2170" stroke-width="1.2" />
<line x1="108.80" y1="358.00" x2="108.80" y2="365.00" stroke="#4f2170" stroke-width="1.2" />
<line x1="106.30" y1="358.00" x2="111.30" y2="358.00" stroke="#4f2170" stroke-width="1.2" />
<line x1="106.30" y1="365.00" x2="111.30" y2="365.00" stroke="#4f2170" stroke-width="1.2" />
<line x1="146.60" y1="369.60" x2="146.60" y2="377.30" stroke="#4f2170" stroke-width="1.2" />
<line x1="144.10" y1="369.60" x2="149.10" y2="369.60" stroke="#4f2170" stroke-width="1.2" />
<line x1="144.10" y1="377.30" x2="149.10" y2="377.30" stroke="#4f2170" stroke-width="1.2" />
<line x1="184.40" y1="382.30" x2="184.40" y2="396.40" stroke="#4f2170" stroke-width="1.2" />
<line x1="181.90" y1="382.30" x2="186.90" y2="382.30" stroke="#4f2170" stroke-width="1.2" />
<line x1="181.90" y1="396.40" x2="186.90" y2="396.40" stroke="#4f2170" stroke-width="1.2" />
<line x1="222.20" y1="388.40" x2="222.20" y2="407.10" stroke="#4f2170" stroke-width="1.2" />
<line x1="219.70" y1="388.40" x2="224.70" y2="388.40" stroke="#4f2170" stroke-width="1.2" />
<line x1="219.70" y1="407.10" x2="224.70" y2="407.10" stroke="#4f2170" stroke-width="1.2" />
<line x1="260.20" y1="406.50" x2="260.20" y2="420.90" stroke="#4f2170" stroke-width="1.2" />
<line x1="257.70" y1="406.50" x2="262.70" y2="406.50" stroke="#4f2170" stroke-width="1.2" />
<line x1="257.70" y1="420.90" x2="262.70" y2="420.90" stroke="#4f2170" stroke-width="1.2" />
<polygon points="71.00,357.90 73.50,353.40 68.50,353.40" fill="#4f2170"/>
<polygon points="108.80,364.20 111.30,359.70 106.30,359.70" fill="#4f2170"/>
<polygon points="146.60,378.10 149.10,373.60 144.10,373.60" fill="#4f2170"/>
<polygon points="184.40,390.40 186.90,385.90 181.90,385.90" fill="#4f2170"/>
<polygon points="222.20,398.40 224.70,393.90 219.70,393.90" fill="#4f2170"/>
<polygon points="260.20,410.40 262.70,405.90 257.70,405.90" fill="#4f2170"/>
<line x1="71.00" y1="345.00" x2="71.00" y2="348.50" stroke="#6aae3c" stroke-width="1.2" />
<line x1="68.50" y1="345.00" x2="73.50" y2="345.00" stroke="#6aae3c" stroke-width="1.2" />
<line x1="68.50" y1="348.50" x2="73.50" y2="348.50" stroke="#6aae3c" stroke-width="1.2" />
<line x1="108.80" y1="353.20" x2="108.80" y2="363.50" stroke="#6aae3c" stroke-width="1.2" />
<line x1="106.30" y1="353.20" x2="111.30" y2="353.20" stroke="#6aae3c" stroke-width="1.2" />
<line x1="106.30" y1="363.50" x2="111.30" y2="363.50" stroke="#6aae3c" stroke-width="1.2" />
<line x1="146.60" y1="379.10" x2="146.60" y2="389.20" stroke="#6aae3c" stroke-width="1.2" />
<line x1="144.10" y1="379.10" x2="149.10" y2="379.10" stroke="#6aae3c" stroke-width="1.2" />
<line x1="144.10" y1="389.20" x2="149.10" y2="389.20" stroke="#6aae3c" stroke-width="1.2" />
<line x1="184.40" y1="412.00" x2="184.40" y2="425.40" stroke="#6aae3c" stroke-width="1.2" />
<line x1="181.90" y1="412.00" x2="186.90" y2="412.00" stroke="#6aae3c" stroke-width="1.2" />
<line x1="181.90" y1="425.40" x2="186.90" y2="425.40" stroke="#6aae3c" stroke-width="1.2" />
<line x1="222.20" y1="438.20" x2="222.20" y2="447.80" stroke="#6aae3c" stroke-width="1.2" />
<line x1="219.70" y1="438.20" x2="224.70" y2="438.20" stroke="#6aae3c" stroke-width="1.2" />
<line x1="219.70" y1="447.80" x2="224.70" y2="447.80" stroke="#6aae3c" stroke-width="1.2" />
<line x1="260.20" y1="449.40" x2="260.20" y2="463.00" stroke="#6aae3c" stroke-width="1.2" />
<line x1="257.70" y1="449.40" x2="262.70" y2="449.40" stroke="#6aae3c" stroke-width="1.2" />
<line x1="257.70" y1="463.00" x2="262.70" y2="463.00" stroke="#6aae3c" stroke-width="1.2" />
<rect x="68.65" y="344.35" width="4.70" height="4.70" fill="#6aae3c"/>
<rect x="106.45" y="354.65" width="4.70" height="4.70" fill="#6aae3c"/>
<rect x="144.25" y="381.85" width="4.70" height="4.70" fill="#6aae3c"/>
<rect x="182.05" y="416.75" width="4.70" height="4.70" fill="#6aae3c"/>
<rect x="219.85" y="441.05" width="4.70" height="4.70" fill="#6aae3c"/>
<rect x="257.85" y="455.65" width="4.70" height="4.70" fill="#6aae3c"/>
<line x1="71.00" y1="344.00" x2="71.00" y2="353.40" stroke="#21418a" stroke-width="1.2" />
<line x1="68.50" y1="344.00" x2="73.50" y2="344.00" stroke="#21418a" stroke-width="1.2" />
<line x1="68.50" y1="353.40" x2="73.50" y2="353.40" stroke="#21418a" stroke-width="1.2" />
<line x1="108.80" y1="361.30" x2="108.80" y2="375.80" stroke="#21418a" stroke-width="1.2" />
<line x1="106.30" y1="361.30" x2="111.30" y2="361.30" stroke="#21418a" stroke-width="1.2" />
<line x1="106.30" y1="375.80" x2="111.30" y2="375.80" stroke="#21418a" stroke-width="1.2" />
<line x1="146.60" y1="395.40" x2="146.60" y2="409.20" stroke="#21418a" stroke-width="1.2" />
<line x1="144.10" y1="395.40" x2="149.10" y2="395.40" stroke="#21418a" stroke-width="1.2" />
<line x1="144.10" y1="409.20" x2="149.10" y2="409.20" stroke="#21418a" stroke-width="1.2" />
<line x1="184.40" y1="429.10" x2="184.40" y2="442.00" stroke="#21418a" stroke-width="1.2" />
<line x1="181.90" y1="429.10" x2="186.90" y2="429.10" stroke="#21418a" stroke-width="1.2" />
<line x1="181.90" y1="442.00" x2="186.90" y2="442.00" stroke="#21418a" stroke-width="1.2" />
<line x1="222.20" y1="447.80" x2="222.20" y2="458.30" stroke="#21418a" stroke-width="1.2" />
<line x1="219.70" y1="447.80" x2="224.70" y2="447.80" stroke="#21418a" stroke-width="1.2" />
<line x1="219.70" y1="458.30" x2="224.70" y2="458.30" stroke="#21418a" stroke-width="1.2" />
<line x1="260.20" y1="453.40" x2="260.20" y2="466.00" stroke="#21418a" stroke-width="1.2" />
<line x1="257.70" y1="453.40" x2="262.70" y2="453.40" stroke="#21418a" stroke-width="1.2" />
<line x1="257.70" y1="466.00" x2="262.70" y2="466.00" stroke="#21418a" stroke-width="1.2" />
<polygon points="71.00,344.95 73.55,349.54 68.45,349.54" fill="#21418a"/>
<polygon points="108.80,365.35 111.35,369.94 106.25,369.94" fill="#21418a"/>
<polygon points="146.60,400.35 149.15,404.94 144.05,404.94" fill="#21418a"/>
<polygon points="184.40,433.25 186.95,437.84 181.85,437.84" fill="#21418a"/>
<polygon points="222.20,451.05 224.75,455.64 219.65,455.64" fill="#21418a"/>
<polygon points="260.20,460.05 262.75,464.64 257.65,464.64" fill="#21418a"/>
<line x1="108.80" y1="340.70" x2="108.80" y2="353.00" stroke="#a50b35" stroke-width="1.2" />
<line x1="106.30" y1="340.70" x2="111.30" y2="340.70" stroke="#a50b35" stroke-width="1.2" />
<line x1="106.30" y1="353.00" x2="111.30" y2="353.00" stroke="#a50b35" stroke-width="1.2" />
<line x1="146.60" y1="354.80" x2="146.60" y2="364.00" stroke="#a50b35" stroke-width="1.2" />
<line x1="144.10" y1="354.80" x2="149.10" y2="354.80" stroke="#a50b35" stroke-width="1.2" />
<line x1="144.10" y1="364.00" x2="149.10" y2="364.00" stroke="#a50b35" stroke-width="1.2" />
<line x1="184.40" y1="367.40" x2="184.40" y2="380.00" stroke="#a50b35" stroke-width="1.2" />
<line x1="181.90" y1="367.40" x2="186.90" y2="367.40" stroke="#a50b35" stroke-width="1.2" />
<line x1="181.90" y1="380.00" x2="186.90" y2="380.00" stroke="#a50b35" stroke-width="1.2" />
<line x1="222.20" y1="370.50" x2="222.20" y2="384.20" stroke="#a50b35" stroke-width="1.2" />
<line x1="219.70" y1="370.50" x2="224.70" y2="370.50" stroke="#a50b35" stroke-width="1.2" />
<line x1="219.70" y1="384.20" x2="224.70" y2="384.20" stroke="#a50b35" stroke-width="1.2" />
<line x1="260.20" y1="389.70" x2="260.20" y2="406.90" stroke="#a50b35" stroke-width="1.2" />
<line x1="257.70" y1="389.70" x2="262.70" y2="389.70" stroke="#a50b35" stroke-width="1.2" />
<line x1="257.70" y1="406.90" x2="262.70" y2="406.90" stroke="#a50b35" stroke-width="1.2" />
<circle cx="71.00" cy="330.00" r="2.50" fill="#a50b35"/>
<circle cx="108.80" cy="347.40" r="2.50" fill="#a50b35"/>
<circle cx="146.60" cy="359.50" r="2.50" fill="#a50b35"/>
<circle cx="184.40" cy="374.10" r="2.50" fill="#a50b35"/>
<circle cx="222.20" cy="377.00" r="2.50" fill="#a50b35"/>
<circle cx="260.20" cy="396.70" r="2.50" fill="#a50b35"/>
<line x1="68.2" y1="413.30" x2="86.7" y2="413.30" stroke="#a50b35" stroke-width="1.25"  />
<circle cx="77.50" cy="413.30" r="3.05" fill="#a50b35"/>
<text x="90.20" y="415.70" font-size="9.3" textLength="28.40" lengthAdjust="spacingAndGlyphs" >DMSO</text>
<line x1="68.2" y1="423.48" x2="86.7" y2="423.48" stroke="#21418a" stroke-width="1.25" stroke-dasharray="1.2 1.3" />
<polygon points="77.50,420.04 80.94,426.23 74.06,426.23" fill="#21418a"/>
<text x="90.20" y="425.88" font-size="9.3" textLength="63.00" lengthAdjust="spacingAndGlyphs" >belinostat 1uM</text>
<line x1="68.2" y1="433.66" x2="86.7" y2="433.66" stroke="#6aae3c" stroke-width="1.25" stroke-dasharray="3.6 2.6" />
<rect x="74.33" y="430.49" width="6.35" height="6.35" fill="#6aae3c"/>
<text x="90.20" y="436.06" font-size="9.3" textLength="63.40" lengthAdjust="spacingAndGlyphs" >ruxolitinib 1uM</text>
<line x1="68.2" y1="443.84" x2="86.7" y2="443.84" stroke="#4f2170" stroke-width="1.25" stroke-dasharray="3.6 2.6" />
<polygon points="77.50,447.22 80.88,441.14 74.12,441.14" fill="#4f2170"/>
<text x="90.20" y="446.24" font-size="9.3" textLength="40.30" lengthAdjust="spacingAndGlyphs" >PRN 1uM</text>
<line x1="68.2" y1="454.02" x2="86.7" y2="454.02" stroke="#eb9a23" stroke-width="1.25" stroke-dasharray="3.6 2.6" />
<polygon points="77.50,457.53 80.83,451.39 74.17,451.39" fill="#fff" stroke="#eb9a23" stroke-width="1.1"/>
<text x="90.20" y="456.42" font-size="9.3" textLength="57.00" lengthAdjust="spacingAndGlyphs" >ibrutinib 1uM</text>
<text x="321.10" y="304.80" font-size="12.5" textLength="166.00" lengthAdjust="spacingAndGlyphs" >Focus on the combination with</text>
<text x="336.70" y="318.50" font-size="12.5" textLength="134.70" lengthAdjust="spacingAndGlyphs" >venetoclax 100nM for 4h</text>
<line x1="340.50" y1="332.20" x2="340.50" y2="467.05" stroke="#000" stroke-width="1.3" />
<line x1="336.90" y1="466.45" x2="467.10" y2="466.45" stroke="#000" stroke-width="1.25" />
<line x1="337.20" y1="466.40" x2="340.50" y2="466.40" stroke="#000" stroke-width="1.1" />
<line x1="338.80" y1="459.88" x2="340.50" y2="459.88" stroke="#000" stroke-width="0.9" />
<line x1="338.80" y1="453.36" x2="340.50" y2="453.36" stroke="#000" stroke-width="0.9" />
<line x1="338.80" y1="446.85" x2="340.50" y2="446.85" stroke="#000" stroke-width="0.9" />
<line x1="338.80" y1="440.33" x2="340.50" y2="440.33" stroke="#000" stroke-width="0.9" />
<line x1="338.80" y1="433.81" x2="340.50" y2="433.81" stroke="#000" stroke-width="0.9" />
<line x1="338.80" y1="427.29" x2="340.50" y2="427.29" stroke="#000" stroke-width="0.9" />
<line x1="338.80" y1="420.78" x2="340.50" y2="420.78" stroke="#000" stroke-width="0.9" />
<line x1="338.80" y1="414.26" x2="340.50" y2="414.26" stroke="#000" stroke-width="0.9" />
<line x1="338.80" y1="407.74" x2="340.50" y2="407.74" stroke="#000" stroke-width="0.9" />
<line x1="337.20" y1="401.22" x2="340.50" y2="401.22" stroke="#000" stroke-width="1.1" />
<line x1="338.80" y1="394.71" x2="340.50" y2="394.71" stroke="#000" stroke-width="0.9" />
<line x1="338.80" y1="388.19" x2="340.50" y2="388.19" stroke="#000" stroke-width="0.9" />
<line x1="338.80" y1="381.67" x2="340.50" y2="381.67" stroke="#000" stroke-width="0.9" />
<line x1="338.80" y1="375.15" x2="340.50" y2="375.15" stroke="#000" stroke-width="0.9" />
<line x1="338.80" y1="368.64" x2="340.50" y2="368.64" stroke="#000" stroke-width="0.9" />
<line x1="338.80" y1="362.12" x2="340.50" y2="362.12" stroke="#000" stroke-width="0.9" />
<line x1="338.80" y1="355.60" x2="340.50" y2="355.60" stroke="#000" stroke-width="0.9" />
<line x1="338.80" y1="349.08" x2="340.50" y2="349.08" stroke="#000" stroke-width="0.9" />
<line x1="338.80" y1="342.57" x2="340.50" y2="342.57" stroke="#000" stroke-width="0.9" />
<line x1="337.20" y1="336.05" x2="340.50" y2="336.05" stroke="#000" stroke-width="1.1" />
<text x="333.30" y="469.40" font-size="10.3" text-anchor="end" >0</text>
<text x="333.30" y="404.22" font-size="10.3" text-anchor="end" >50</text>
<text x="333.30" y="339.05" font-size="10.3" text-anchor="end" textLength="16.60" lengthAdjust="spacingAndGlyphs" >100</text>
<text x="309.70" y="399.32" font-size="12.5" text-anchor="middle" textLength="107.20" lengthAdjust="spacingAndGlyphs" transform="rotate(-90 309.70 399.32)" >Viability relative to DMSO</text>
<line x1="350.30" y1="466.45" x2="350.30" y2="469.80" stroke="#000" stroke-width="1.1" />
<line x1="370.78" y1="466.45" x2="370.78" y2="469.80" stroke="#000" stroke-width="1.1" />
<line x1="391.26" y1="466.45" x2="391.26" y2="469.80" stroke="#000" stroke-width="1.1" />
<line x1="411.74" y1="466.45" x2="411.74" y2="469.80" stroke="#000" stroke-width="1.1" />
<line x1="432.22" y1="466.45" x2="432.22" y2="469.80" stroke="#000" stroke-width="1.1" />
<line x1="452.70" y1="466.45" x2="452.70" y2="469.80" stroke="#000" stroke-width="1.1" />
<text x="354.30" y="478.00" font-size="10" text-anchor="end" textLength="31.45" lengthAdjust="spacingAndGlyphs" transform="rotate(-45 354.30 478.00)" >DMSO</text>
<text x="374.78" y="478.00" font-size="10" text-anchor="end" textLength="68.39" lengthAdjust="spacingAndGlyphs" transform="rotate(-45 374.78 478.00)" >belinostat 1µM</text>
<text x="395.26" y="478.00" font-size="10" text-anchor="end" textLength="31.45" lengthAdjust="spacingAndGlyphs" transform="rotate(-45 395.26 478.00)" >DMSO</text>
<text x="415.74" y="478.00" font-size="10" text-anchor="end" textLength="67.80" lengthAdjust="spacingAndGlyphs" transform="rotate(-45 415.74 478.00)" >ruxolitinib 1µM</text>
<text x="436.22" y="478.00" font-size="10" text-anchor="end" textLength="31.45" lengthAdjust="spacingAndGlyphs" transform="rotate(-45 436.22 478.00)" >DMSO</text>
<text x="456.70" y="478.00" font-size="10" text-anchor="end" textLength="61.54" lengthAdjust="spacingAndGlyphs" transform="rotate(-45 456.70 478.00)" >PRN694 1µM</text>
<polyline points="354.50,332.3 354.50,330.7 374.98,330.7 374.98,332.3" fill="none" stroke="#000" stroke-width="1.3"/>
<polygon points="358.74,324.00 359.21,324.95 360.26,325.11 359.50,325.85 359.68,326.89 358.74,326.40 357.80,326.89 357.98,325.85 357.22,325.11 358.27,324.95" fill="#000"/>
<polygon points="362.74,324.00 363.21,324.95 364.26,325.11 363.50,325.85 363.68,326.89 362.74,326.40 361.80,326.89 361.98,325.85 361.22,325.11 362.27,324.95" fill="#000"/>
<polygon points="366.74,324.00 367.21,324.95 368.26,325.11 367.50,325.85 367.68,326.89 366.74,326.40 365.80,326.89 365.98,325.85 365.22,325.11 366.27,324.95" fill="#000"/>
<polygon points="370.74,324.00 371.21,324.95 372.26,325.11 371.50,325.85 371.68,326.89 370.74,326.40 369.80,326.89 369.98,325.85 369.22,325.11 370.27,324.95" fill="#000"/>
<polyline points="395.46,332.3 395.46,330.7 415.94,330.7 415.94,332.3" fill="none" stroke="#000" stroke-width="1.3"/>
<polygon points="399.70,324.00 400.17,324.95 401.22,325.11 400.46,325.85 400.64,326.89 399.70,326.40 398.76,326.89 398.94,325.85 398.18,325.11 399.23,324.95" fill="#000"/>
<polygon points="403.70,324.00 404.17,324.95 405.22,325.11 404.46,325.85 404.64,326.89 403.70,326.40 402.76,326.89 402.94,325.85 402.18,325.11 403.23,324.95" fill="#000"/>
<polygon points="407.70,324.00 408.17,324.95 409.22,325.11 408.46,325.85 408.64,326.89 407.70,326.40 406.76,326.89 406.94,325.85 406.18,325.11 407.23,324.95" fill="#000"/>
<polygon points="411.70,324.00 412.17,324.95 413.22,325.11 412.46,325.85 412.64,326.89 411.70,326.40 410.76,326.89 410.94,325.85 410.18,325.11 411.23,324.95" fill="#000"/>
<polyline points="436.42,332.3 436.42,330.7 456.90,330.7 456.90,332.3" fill="none" stroke="#000" stroke-width="1.3"/>
<polygon points="446.66,324.00 447.13,324.95 448.18,325.11 447.42,325.85 447.60,326.89 446.66,326.40 445.72,326.89 445.90,325.85 445.14,325.11 446.19,324.95" fill="#000"/>
<line x1="354.50" y1="335.90" x2="374.98" y2="420.00" stroke="#a50b35" stroke-width="0.65" stroke-opacity="0.78"/>
<line x1="354.50" y1="341.50" x2="374.98" y2="372.00" stroke="#a50b35" stroke-width="0.65" stroke-opacity="0.78"/>
<line x1="354.50" y1="345.90" x2="374.98" y2="379.20" stroke="#a50b35" stroke-width="0.65" stroke-opacity="0.78"/>
<line x1="354.50" y1="350.50" x2="374.98" y2="432.60" stroke="#a50b35" stroke-width="0.65" stroke-opacity="0.78"/>
<line x1="354.50" y1="351.30" x2="374.98" y2="400.10" stroke="#a50b35" stroke-width="0.65" stroke-opacity="0.78"/>
<line x1="354.50" y1="352.30" x2="374.98" y2="426.60" stroke="#a50b35" stroke-width="0.65" stroke-opacity="0.78"/>
<line x1="354.50" y1="375.60" x2="374.98" y2="389.80" stroke="#a50b35" stroke-width="0.65" stroke-opacity="0.78"/>
<line x1="354.50" y1="380.60" x2="374.98" y2="402.90" stroke="#a50b35" stroke-width="0.65" stroke-opacity="0.78"/>
<line x1="354.50" y1="382.70" x2="374.98" y2="394.50" stroke="#a50b35" stroke-width="0.65" stroke-opacity="0.78"/>
<line x1="354.50" y1="389.90" x2="374.98" y2="438.50" stroke="#a50b35" stroke-width="0.65" stroke-opacity="0.78"/>
<line x1="354.50" y1="395.40" x2="374.98" y2="405.20" stroke="#a50b35" stroke-width="0.65" stroke-opacity="0.78"/>
<line x1="354.50" y1="396.30" x2="374.98" y2="446.00" stroke="#a50b35" stroke-width="0.65" stroke-opacity="0.78"/>
<line x1="354.50" y1="397.40" x2="374.98" y2="397.30" stroke="#a50b35" stroke-width="0.65" stroke-opacity="0.78"/>
<line x1="354.50" y1="402.50" x2="374.98" y2="449.00" stroke="#a50b35" stroke-width="0.65" stroke-opacity="0.78"/>
<line x1="354.50" y1="403.80" x2="374.98" y2="451.90" stroke="#a50b35" stroke-width="0.65" stroke-opacity="0.78"/>
<line x1="354.50" y1="405.00" x2="374.98" y2="454.90" stroke="#a50b35" stroke-width="0.65" stroke-opacity="0.78"/>
<line x1="354.50" y1="408.10" x2="374.98" y2="458.30" stroke="#a50b35" stroke-width="0.65" stroke-opacity="0.78"/>
<line x1="354.50" y1="416.80" x2="374.98" y2="422.20" stroke="#a50b35" stroke-width="0.65" stroke-opacity="0.78"/>
<circle cx="354.50" cy="335.90" r="1.75" fill="#a50b35"/>
<circle cx="354.50" cy="341.50" r="1.75" fill="#a50b35"/>
<circle cx="354.50" cy="345.90" r="1.75" fill="#a50b35"/>
<circle cx="354.50" cy="350.50" r="1.75" fill="#a50b35"/>
<circle cx="354.50" cy="351.30" r="1.75" fill="#a50b35"/>
<circle cx="354.50" cy="352.30" r="1.75" fill="#a50b35"/>
<circle cx="354.50" cy="375.60" r="1.75" fill="#a50b35"/>
<circle cx="354.50" cy="380.60" r="1.75" fill="#a50b35"/>
<circle cx="354.50" cy="382.70" r="1.75" fill="#a50b35"/>
<circle cx="354.50" cy="389.90" r="1.75" fill="#a50b35"/>
<circle cx="354.50" cy="395.40" r="1.75" fill="#a50b35"/>
<circle cx="354.50" cy="396.30" r="1.75" fill="#a50b35"/>
<circle cx="354.50" cy="397.40" r="1.75" fill="#a50b35"/>
<circle cx="354.50" cy="402.50" r="1.75" fill="#a50b35"/>
<circle cx="354.50" cy="403.80" r="1.75" fill="#a50b35"/>
<circle cx="354.50" cy="405.00" r="1.75" fill="#a50b35"/>
<circle cx="354.50" cy="408.10" r="1.75" fill="#a50b35"/>
<circle cx="354.50" cy="416.80" r="1.75" fill="#a50b35"/>
<circle cx="374.98" cy="420.00" r="1.75" fill="#a50b35"/>
<circle cx="374.98" cy="372.00" r="1.75" fill="#a50b35"/>
<circle cx="374.98" cy="379.20" r="1.75" fill="#a50b35"/>
<circle cx="374.98" cy="432.60" r="1.75" fill="#a50b35"/>
<circle cx="374.98" cy="400.10" r="1.75" fill="#a50b35"/>
<circle cx="374.98" cy="426.60" r="1.75" fill="#a50b35"/>
<circle cx="374.98" cy="389.80" r="1.75" fill="#a50b35"/>
<circle cx="374.98" cy="402.90" r="1.75" fill="#a50b35"/>
<circle cx="374.98" cy="394.50" r="1.75" fill="#a50b35"/>
<circle cx="374.98" cy="438.50" r="1.75" fill="#a50b35"/>
<circle cx="374.98" cy="405.20" r="1.75" fill="#a50b35"/>
<circle cx="374.98" cy="446.00" r="1.75" fill="#a50b35"/>
<circle cx="374.98" cy="397.30" r="1.75" fill="#a50b35"/>
<circle cx="374.98" cy="449.00" r="1.75" fill="#a50b35"/>
<circle cx="374.98" cy="451.90" r="1.75" fill="#a50b35"/>
<circle cx="374.98" cy="454.90" r="1.75" fill="#a50b35"/>
<circle cx="374.98" cy="458.30" r="1.75" fill="#a50b35"/>
<circle cx="374.98" cy="422.20" r="1.75" fill="#a50b35"/>
<line x1="395.46" y1="335.90" x2="415.94" y2="371.00" stroke="#a50b35" stroke-width="0.65" stroke-opacity="0.78"/>
<line x1="395.46" y1="341.50" x2="415.94" y2="393.50" stroke="#a50b35" stroke-width="0.65" stroke-opacity="0.78"/>
<line x1="395.46" y1="345.90" x2="415.94" y2="352.30" stroke="#a50b35" stroke-width="0.65" stroke-opacity="0.78"/>
<line x1="395.46" y1="350.50" x2="415.94" y2="411.20" stroke="#a50b35" stroke-width="0.65" stroke-opacity="0.78"/>
<line x1="395.46" y1="351.30" x2="415.94" y2="375.50" stroke="#a50b35" stroke-width="0.65" stroke-opacity="0.78"/>
<line x1="395.46" y1="352.30" x2="415.94" y2="432.30" stroke="#a50b35" stroke-width="0.65" stroke-opacity="0.78"/>
<line x1="395.46" y1="375.60" x2="415.94" y2="378.50" stroke="#a50b35" stroke-width="0.65" stroke-opacity="0.78"/>
<line x1="395.46" y1="380.60" x2="415.94" y2="413.40" stroke="#a50b35" stroke-width="0.65" stroke-opacity="0.78"/>
<line x1="395.46" y1="382.70" x2="415.94" y2="396.70" stroke="#a50b35" stroke-width="0.65" stroke-opacity="0.78"/>
<line x1="395.46" y1="389.90" x2="415.94" y2="435.70" stroke="#a50b35" stroke-width="0.65" stroke-opacity="0.78"/>
<line x1="395.46" y1="395.40" x2="415.94" y2="400.00" stroke="#a50b35" stroke-width="0.65" stroke-opacity="0.78"/>
<line x1="395.46" y1="396.30" x2="415.94" y2="421.80" stroke="#a50b35" stroke-width="0.65" stroke-opacity="0.78"/>
<line x1="395.46" y1="397.40" x2="415.94" y2="427.90" stroke="#a50b35" stroke-width="0.65" stroke-opacity="0.78"/>
<line x1="395.46" y1="402.50" x2="415.94" y2="415.10" stroke="#a50b35" stroke-width="0.65" stroke-opacity="0.78"/>
<line x1="395.46" y1="403.80" x2="415.94" y2="430.10" stroke="#a50b35" stroke-width="0.65" stroke-opacity="0.78"/>
<line x1="395.46" y1="405.00" x2="415.94" y2="451.30" stroke="#a50b35" stroke-width="0.65" stroke-opacity="0.78"/>
<line x1="395.46" y1="408.10" x2="415.94" y2="424.50" stroke="#a50b35" stroke-width="0.65" stroke-opacity="0.78"/>
<line x1="395.46" y1="416.80" x2="415.94" y2="438.50" stroke="#a50b35" stroke-width="0.65" stroke-opacity="0.78"/>
<circle cx="395.46" cy="335.90" r="1.75" fill="#a50b35"/>
<circle cx="395.46" cy="341.50" r="1.75" fill="#a50b35"/>
<circle cx="395.46" cy="345.90" r="1.75" fill="#a50b35"/>
<circle cx="395.46" cy="350.50" r="1.75" fill="#a50b35"/>
<circle cx="395.46" cy="351.30" r="1.75" fill="#a50b35"/>
<circle cx="395.46" cy="352.30" r="1.75" fill="#a50b35"/>
<circle cx="395.46" cy="375.60" r="1.75" fill="#a50b35"/>
<circle cx="395.46" cy="380.60" r="1.75" fill="#a50b35"/>
<circle cx="395.46" cy="382.70" r="1.75" fill="#a50b35"/>
<circle cx="395.46" cy="389.90" r="1.75" fill="#a50b35"/>
<circle cx="395.46" cy="395.40" r="1.75" fill="#a50b35"/>
<circle cx="395.46" cy="396.30" r="1.75" fill="#a50b35"/>
<circle cx="395.46" cy="397.40" r="1.75" fill="#a50b35"/>
<circle cx="395.46" cy="402.50" r="1.75" fill="#a50b35"/>
<circle cx="395.46" cy="403.80" r="1.75" fill="#a50b35"/>
<circle cx="395.46" cy="405.00" r="1.75" fill="#a50b35"/>
<circle cx="395.46" cy="408.10" r="1.75" fill="#a50b35"/>
<circle cx="395.46" cy="416.80" r="1.75" fill="#a50b35"/>
<circle cx="415.94" cy="371.00" r="1.75" fill="#a50b35"/>
<circle cx="415.94" cy="393.50" r="1.75" fill="#a50b35"/>
<circle cx="415.94" cy="352.30" r="1.75" fill="#a50b35"/>
<circle cx="415.94" cy="411.20" r="1.75" fill="#a50b35"/>
<circle cx="415.94" cy="375.50" r="1.75" fill="#a50b35"/>
<circle cx="415.94" cy="432.30" r="1.75" fill="#a50b35"/>
<circle cx="415.94" cy="378.50" r="1.75" fill="#a50b35"/>
<circle cx="415.94" cy="413.40" r="1.75" fill="#a50b35"/>
<circle cx="415.94" cy="396.70" r="1.75" fill="#a50b35"/>
<circle cx="415.94" cy="435.70" r="1.75" fill="#a50b35"/>
<circle cx="415.94" cy="400.00" r="1.75" fill="#a50b35"/>
<circle cx="415.94" cy="421.80" r="1.75" fill="#a50b35"/>
<circle cx="415.94" cy="427.90" r="1.75" fill="#a50b35"/>
<circle cx="415.94" cy="415.10" r="1.75" fill="#a50b35"/>
<circle cx="415.94" cy="430.10" r="1.75" fill="#a50b35"/>
<circle cx="415.94" cy="451.30" r="1.75" fill="#a50b35"/>
<circle cx="415.94" cy="424.50" r="1.75" fill="#a50b35"/>
<circle cx="415.94" cy="438.50" r="1.75" fill="#a50b35"/>
<line x1="436.42" y1="335.90" x2="456.90" y2="351.20" stroke="#a50b35" stroke-width="0.65" stroke-opacity="0.78"/>
<line x1="436.42" y1="341.50" x2="456.90" y2="337.80" stroke="#a50b35" stroke-width="0.65" stroke-opacity="0.78"/>
<line x1="436.42" y1="345.90" x2="456.90" y2="343.90" stroke="#a50b35" stroke-width="0.65" stroke-opacity="0.78"/>
<line x1="436.42" y1="350.50" x2="456.90" y2="363.20" stroke="#a50b35" stroke-width="0.65" stroke-opacity="0.78"/>
<line x1="436.42" y1="351.30" x2="456.90" y2="373.70" stroke="#a50b35" stroke-width="0.65" stroke-opacity="0.78"/>
<line x1="436.42" y1="352.30" x2="456.90" y2="369.90" stroke="#a50b35" stroke-width="0.65" stroke-opacity="0.78"/>
<line x1="436.42" y1="375.60" x2="456.90" y2="378.20" stroke="#a50b35" stroke-width="0.65" stroke-opacity="0.78"/>
<line x1="436.42" y1="380.60" x2="456.90" y2="384.20" stroke="#a50b35" stroke-width="0.65" stroke-opacity="0.78"/>
<line x1="436.42" y1="382.70" x2="456.90" y2="388.90" stroke="#a50b35" stroke-width="0.65" stroke-opacity="0.78"/>
<line x1="436.42" y1="389.90" x2="456.90" y2="396.50" stroke="#a50b35" stroke-width="0.65" stroke-opacity="0.78"/>
<line x1="436.42" y1="395.40" x2="456.90" y2="388.90" stroke="#a50b35" stroke-width="0.65" stroke-opacity="0.78"/>
<line x1="436.42" y1="396.30" x2="456.90" y2="401.00" stroke="#a50b35" stroke-width="0.65" stroke-opacity="0.78"/>
<line x1="436.42" y1="397.40" x2="456.90" y2="413.80" stroke="#a50b35" stroke-width="0.65" stroke-opacity="0.78"/>
<line x1="436.42" y1="402.50" x2="456.90" y2="401.00" stroke="#a50b35" stroke-width="0.65" stroke-opacity="0.78"/>
<line x1="436.42" y1="403.80" x2="456.90" y2="415.70" stroke="#a50b35" stroke-width="0.65" stroke-opacity="0.78"/>
<line x1="436.42" y1="405.00" x2="456.90" y2="421.00" stroke="#a50b35" stroke-width="0.65" stroke-opacity="0.78"/>
<line x1="436.42" y1="408.10" x2="456.90" y2="421.00" stroke="#a50b35" stroke-width="0.65" stroke-opacity="0.78"/>
<line x1="436.42" y1="416.80" x2="456.90" y2="425.60" stroke="#a50b35" stroke-width="0.65" stroke-opacity="0.78"/>
<circle cx="436.42" cy="335.90" r="1.75" fill="#a50b35"/>
<circle cx="436.42" cy="341.50" r="1.75" fill="#a50b35"/>
<circle cx="436.42" cy="345.90" r="1.75" fill="#a50b35"/>
<circle cx="436.42" cy="350.50" r="1.75" fill="#a50b35"/>
<circle cx="436.42" cy="351.30" r="1.75" fill="#a50b35"/>
<circle cx="436.42" cy="352.30" r="1.75" fill="#a50b35"/>
<circle cx="436.42" cy="375.60" r="1.75" fill="#a50b35"/>
<circle cx="436.42" cy="380.60" r="1.75" fill="#a50b35"/>
<circle cx="436.42" cy="382.70" r="1.75" fill="#a50b35"/>
<circle cx="436.42" cy="389.90" r="1.75" fill="#a50b35"/>
<circle cx="436.42" cy="395.40" r="1.75" fill="#a50b35"/>
<circle cx="436.42" cy="396.30" r="1.75" fill="#a50b35"/>
<circle cx="436.42" cy="397.40" r="1.75" fill="#a50b35"/>
<circle cx="436.42" cy="402.50" r="1.75" fill="#a50b35"/>
<circle cx="436.42" cy="403.80" r="1.75" fill="#a50b35"/>
<circle cx="436.42" cy="405.00" r="1.75" fill="#a50b35"/>
<circle cx="436.42" cy="408.10" r="1.75" fill="#a50b35"/>
<circle cx="436.42" cy="416.80" r="1.75" fill="#a50b35"/>
<circle cx="456.90" cy="351.20" r="1.75" fill="#a50b35"/>
<circle cx="456.90" cy="337.80" r="1.75" fill="#a50b35"/>
<circle cx="456.90" cy="343.90" r="1.75" fill="#a50b35"/>
<circle cx="456.90" cy="363.20" r="1.75" fill="#a50b35"/>
<circle cx="456.90" cy="373.70" r="1.75" fill="#a50b35"/>
<circle cx="456.90" cy="369.90" r="1.75" fill="#a50b35"/>
<circle cx="456.90" cy="378.20" r="1.75" fill="#a50b35"/>
<circle cx="456.90" cy="384.20" r="1.75" fill="#a50b35"/>
<circle cx="456.90" cy="388.90" r="1.75" fill="#a50b35"/>
<circle cx="456.90" cy="396.50" r="1.75" fill="#a50b35"/>
<circle cx="456.90" cy="388.90" r="1.75" fill="#a50b35"/>
<circle cx="456.90" cy="401.00" r="1.75" fill="#a50b35"/>
<circle cx="456.90" cy="413.80" r="1.75" fill="#a50b35"/>
<circle cx="456.90" cy="401.00" r="1.75" fill="#a50b35"/>
<circle cx="456.90" cy="415.70" r="1.75" fill="#a50b35"/>
<circle cx="456.90" cy="421.00" r="1.75" fill="#a50b35"/>
<circle cx="456.90" cy="421.00" r="1.75" fill="#a50b35"/>
<circle cx="456.90" cy="425.60" r="1.75" fill="#a50b35"/>
</svg>
</body></html>
